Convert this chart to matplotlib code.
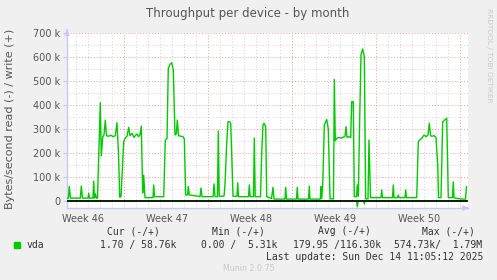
import matplotlib
matplotlib.use("Agg")
import matplotlib.pyplot as plt

# hours since left edge of graph, write throughput in kB/s
write_hours = [0, 3, 4.6, 7, 26.6, 28.6, 31, 42, 43.4, 45, 52, 53.4, 55, 56.6, 59, 61,
               66.6, 68.6, 71.4, 74, 76.6, 79, 83.4, 88, 92, 96.6, 100, 103, 105.4, 108,
               113.4, 116, 120, 123.4, 126, 130, 134, 138, 140, 143, 146, 148.6, 151.4,
               153.4, 156, 166, 172, 173.4, 175, 193.4, 196.6, 200, 202.6, 206, 209.4,
               212.6, 216, 218.6, 220.6, 223, 228, 232, 234.6, 237.4, 241, 242.6, 244.4,
               256, 266, 268, 270, 292, 294, 296, 301, 302.6, 304.4, 314, 316, 319.4, 322,
               324.6, 327.4, 329.4, 332, 340, 341.4, 343, 363, 364.6, 366.4, 373, 374.6,
               376.4, 387, 389.4, 392, 394, 397.4, 399.4, 409, 412, 414, 436, 437.4, 439,
               459, 460.6, 462, 483, 484.6, 486, 506.6, 508, 509.4, 511.4, 514.6, 519.4,
               522.6, 526, 533, 534.6, 536.6, 540, 544, 548, 552.6, 556, 558, 560, 564,
               567.4, 569.4, 572.6, 574.6, 579, 580.6, 582.6, 585, 588, 591.4, 594.6,
               597.4, 602, 604, 607, 628, 629.4, 631, 651, 652.6, 654, 661, 662.6, 664,
               676, 677.4, 679, 699.4, 702.6, 706, 710, 714, 718, 722, 724.6, 727, 730,
               734, 738, 741.4, 743, 748, 751.4, 754, 759.4, 762.6, 771, 772.6, 774, 782,
               792, 797, 799]
write_k = [12, 12, 60, 12, 12, 62, 12, 12, 33, 12, 12, 83, 12, 30, 12, 12,
           410, 188, 267, 275, 337, 272, 270, 274, 268, 272, 326, 200, 16, 18,
           247, 260, 270, 307, 272, 282, 265, 276, 279, 268, 276, 312, 33,
           108, 14, 14, 14, 67, 18, 18, 254, 260, 553, 570, 576,
           546, 275, 280, 337, 272, 270, 268, 258, 25, 25, 60, 25,
           22, 18, 54, 18, 18, 71, 18, 18, 292, 20, 20, 69, 240, 330,
           331, 325, 200, 20, 20, 76, 18, 18, 67, 18, 18, 262,
           18, 18, 200, 318, 324, 310, 18, 10, 57, 8, 8, 57, 8,
           8, 57, 8, 8, 62, 8, 8, 60, 10, 62, 316, 340,
           300, 9, 9, 507, 251, 262, 265, 262, 266, 270, 310, 265, 268,
           265, 414, 414, 18, 18, 67, 20, 300, 610, 633, 601,
           9, 9, 254, 14, 14, 46, 14, 14, 67, 14, 14, 25, 14,
           14, 46, 14, 14, 247, 255, 262, 275, 268, 275, 324, 272, 270,
           272, 265, 150, 14, 14, 330, 335, 345, 14, 14, 80, 14, 10,
           8, 8, 60]

# read throughput drawn mirrored below zero
read_hours = [0, 579, 580.6, 582.4, 593, 594.6, 596, 799]
read_k = [0, 0, 24, 0, 0, 12, 0, 0]

week_starts = [114, 282, 450, 618, 786]
week_label_pos = [33, 201, 369, 537, 705]
week_labels = ["Week 46", "Week 47", "Week 48", "Week 49", "Week 50"]
ytick_vals = [0, 100000, 200000, 300000, 400000, 500000, 600000, 700000]
ytick_labels = ["0", "100 k", "200 k", "300 k", "400 k", "500 k", "600 k", "700 k"]

green = "#00cc00"
axis_col = "#c8c8f4"
txt = "#555555"

W, H = 497, 280
fig = plt.figure(figsize=(W / 100, H / 100), dpi=100, facecolor="#f0f0f0")
ax = fig.add_axes([67 / W, (H - 208) / H, 401 / W, 175 / H])
ax.set_facecolor("white")
ax.set_xlim(0, 802)
ax.set_ylim(-29167, 700000)

# grid: minor (gray) and major (red)
for h in range(18, 802, 24):
    if h not in week_starts:
        ax.axvline(h, color="#d4d4d4", lw=0.7, ls=(0, (1, 2)), zorder=1)
for h in week_starts:
    ax.axvline(h, color="#eb9a9a", lw=0.7, ls=(0, (1, 2)), zorder=1)
for v in range(50000, 700000, 100000):
    ax.axhline(v, color="#d4d4d4", lw=0.7, ls=(0, (1, 2)), zorder=1)
for v in ytick_vals[1:]:
    ax.axhline(v, color="#eb9a9a", lw=0.7, ls=(0, (1, 2)), zorder=1)

ax.plot(write_hours, [k * 1000 for k in write_k], color=green, lw=1.0, zorder=3)
ax.plot(read_hours, [-k * 1000 for k in read_k], color=green, lw=1.0, zorder=3)
ax.axhline(0, color="black", lw=1.2, zorder=4)

for s in ["top", "right"]:
    ax.spines[s].set_visible(False)
for s in ["left", "bottom"]:
    ax.spines[s].set_color(axis_col)
    ax.spines[s].set_linewidth(1.0)
ax.annotate("", xy=(1.008, 0), xytext=(0.99, 0), xycoords="axes fraction",
            arrowprops=dict(arrowstyle="-|>", color=axis_col, lw=1, mutation_scale=7))
ax.annotate("", xy=(0, 1.035), xytext=(0, 1.0), xycoords="axes fraction",
            arrowprops=dict(arrowstyle="-|>", color=axis_col, lw=1, mutation_scale=7))

ax.set_yticks(ytick_vals)
ax.set_yticklabels(ytick_labels)
ax.set_xticks(week_label_pos)
ax.set_xticklabels(week_labels)
ax.tick_params(axis="y", length=3, color=axis_col, pad=2, labelsize=7, labelcolor=txt)
ax.tick_params(axis="x", length=0, pad=4, labelsize=7, labelcolor=txt)

fig.text(248 / W, 1 - 13 / H, "Throughput per device - by month", ha="center", va="center",
         fontsize=8.5, color=txt)
fig.text(10.5 / W, 1 - 119 / H, "Bytes/second read (-) / write (+)", rotation=90,
         ha="center", va="center", fontsize=8, color=txt)
fig.text(489 / W, 1 - 55 / H, "RRDTOOL / TOBI OETIKER", rotation=270, ha="center",
         va="center", fontsize=5.3, color="#c8c8c8")

mono = dict(family="DejaVu Sans Mono", fontsize=7, color="#333333", va="center")
fig.text(107 / W, 1 - 231.5 / H, "Cur (-/+)", **mono)
fig.text(212 / W, 1 - 231.5 / H, "Min (-/+)", **mono)
fig.text(317.5 / W, 1 - 231.5 / H, "Avg (-/+)", **mono)
fig.text(422.5 / W, 1 - 231.5 / H, "Max (-/+)", **mono)
fig.patches.append(plt.Rectangle((14 / W, 1 - 248 / H), 6 / W, 6 / H, color=green,
                                 transform=fig.transFigure, figure=fig))
fig.text(26.5 / W, 1 - 245 / H, "vda", **mono)
fig.text(99.5 / W, 1 - 245 / H, "1.70 / 58.76k", **mono)
fig.text(201 / W, 1 - 245 / H, "0.00 /  5.31k", **mono)
fig.text(292.7 / W, 1 - 245 / H, "179.95 /116.30k", **mono)
fig.text(394.3 / W, 1 - 245 / H, "574.73k/  1.79M", **mono)
fig.text(483.5 / W, 1 - 256.7 / H, "Last update: Sun Dec 14 11:05:12 2025",
         ha="right", family="DejaVu Sans Mono", fontsize=7, color="#333333", va="center")
fig.text(248.5 / W, 1 - 268.5 / H, "Munin 2.0.75", ha="center", va="center",
         fontsize=5.7, color="#c8c8c8")

fig.savefig("out.png", dpi=100, facecolor=fig.get_facecolor())
